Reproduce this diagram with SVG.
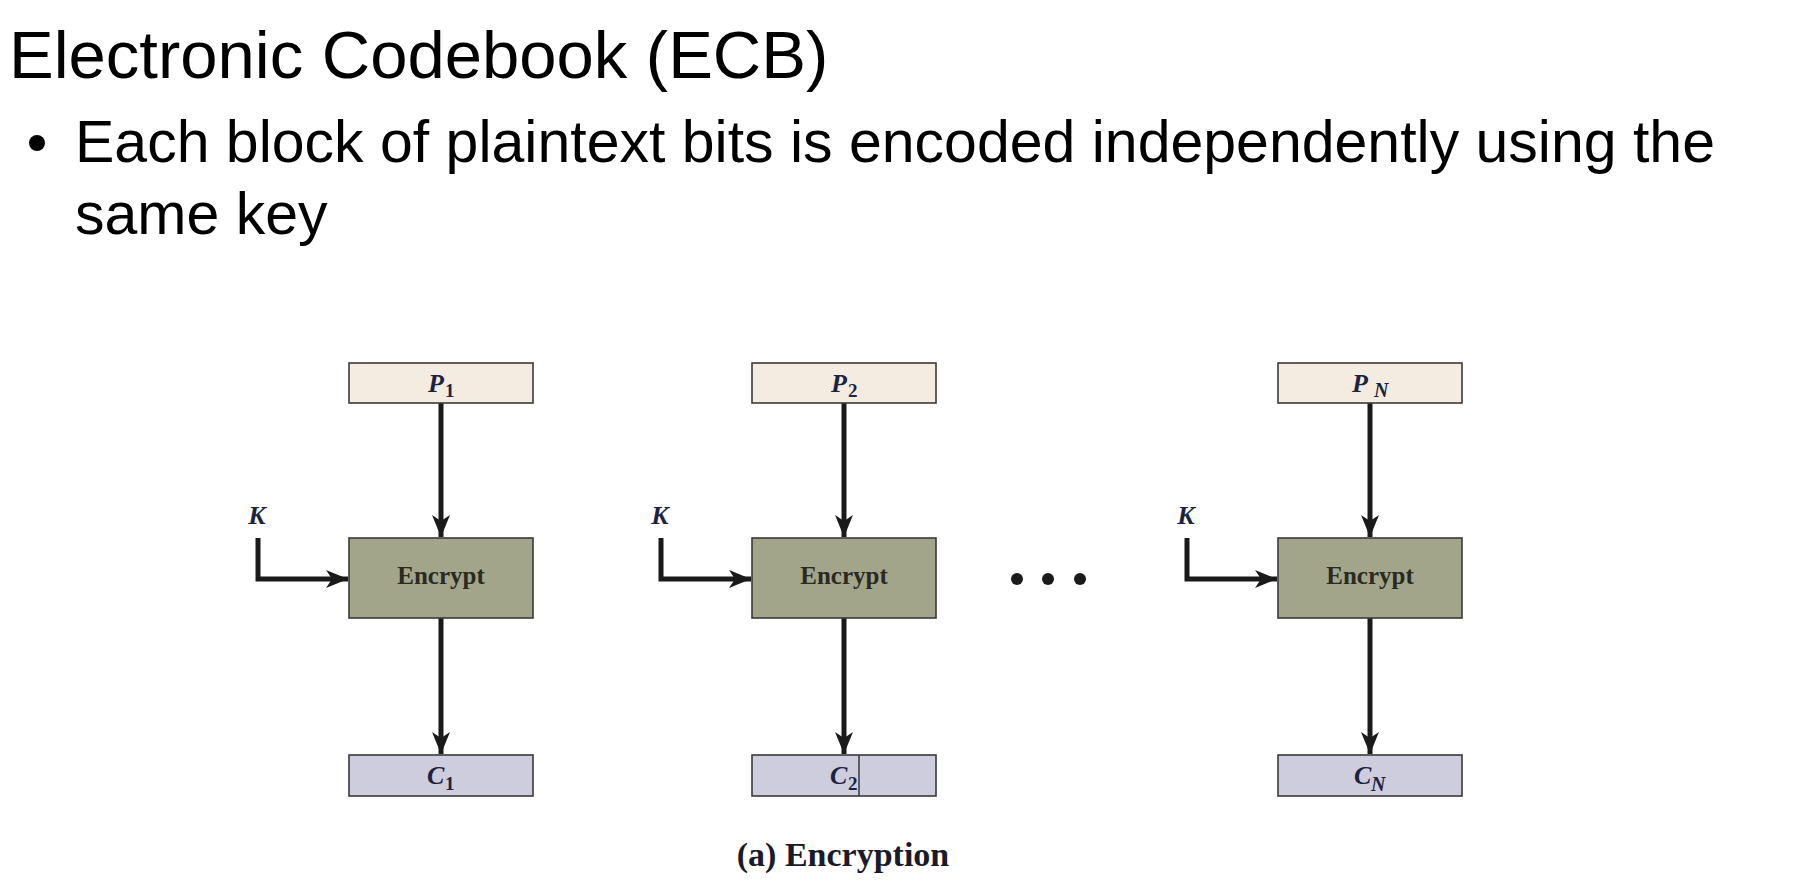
<svg xmlns="http://www.w3.org/2000/svg" width="1802" height="894" viewBox="0 0 1802 894">
<style>
.title{font-family:"Liberation Sans",Arial,sans-serif;font-size:67px;fill:#000}
.body{font-family:"Liberation Sans",Arial,sans-serif;font-size:59px;fill:#000}
.pbox{fill:#f4ebe1;stroke:#3a3a3a;stroke-width:1.6}
.ebox{fill:#a2a58a;stroke:#3a3a3a;stroke-width:1.6}
.cbox{fill:#cdcddd;stroke:#3a3a3a;stroke-width:1.6}
.lbl{font-family:"Liberation Serif","Times New Roman",serif;font-style:italic;font-weight:bold;font-size:26px;fill:#1c2340}
.sub{font-family:"Liberation Serif","Times New Roman",serif;font-weight:bold;font-size:19px;fill:#1c2340}
.subi{font-family:"Liberation Serif","Times New Roman",serif;font-style:italic;font-weight:bold;font-size:20px;fill:#1c2340}
.enc{font-family:"Liberation Serif","Times New Roman",serif;font-weight:bold;font-size:25px;fill:#2a2a22}
.cap{font-family:"Liberation Serif","Times New Roman",serif;font-weight:bold;font-size:34px;fill:#1a1a2a}
.ar{fill:none;stroke:#1a1a1a;stroke-width:5}
</style>
<defs>
<marker id="ah" markerUnits="userSpaceOnUse" markerWidth="26" markerHeight="22" refX="22" refY="11" orient="auto">
<path d="M0,2 L22,11 L0,20 L6,11 Z" fill="#1a1a1a"/>
</marker>
</defs>
<rect width="1802" height="894" fill="#fff"/>
<g id="heading">
<text class="title" x="9" y="78">Electronic Codebook (ECB)</text>
<circle cx="37" cy="143" r="8" fill="#000"/>
<text class="body" x="75" y="162">Each block of plaintext bits is encoded independently using the</text>
<text class="body" x="75" y="234">same key</text>
</g>
<g id="connectors">
<path class="ar" d="M441,403 V537" marker-end="url(#ah)"/>
<path class="ar" d="M441,618 V754" marker-end="url(#ah)"/>
<path class="ar" d="M258,538 V579 H348" marker-end="url(#ah)"/>
<path class="ar" d="M844,403 V537" marker-end="url(#ah)"/>
<path class="ar" d="M844,618 V754" marker-end="url(#ah)"/>
<path class="ar" d="M661,538 V579 H751" marker-end="url(#ah)"/>
<path class="ar" d="M1370,403 V537" marker-end="url(#ah)"/>
<path class="ar" d="M1370,618 V754" marker-end="url(#ah)"/>
<path class="ar" d="M1187,538 V579 H1277" marker-end="url(#ah)"/>
</g>
<g id="P1"><rect class="pbox" x="349" y="363" width="184" height="40"/><text class="lbl" x="428" y="392">P</text><text class="sub" x="445" y="397">1</text></g>
<g id="P2"><rect class="pbox" x="752" y="363" width="184" height="40"/><text class="lbl" x="831" y="392">P</text><text class="sub" x="848" y="397">2</text></g>
<g id="PN"><rect class="pbox" x="1278" y="363" width="184" height="40"/><text class="lbl" x="1352" y="392">P</text><text class="subi" x="1374" y="397">N</text></g>
<g id="K1"><text class="lbl" x="257" y="524" text-anchor="middle">K</text></g>
<g id="K2"><text class="lbl" x="660" y="524" text-anchor="middle">K</text></g>
<g id="K3"><text class="lbl" x="1186" y="524" text-anchor="middle">K</text></g>
<g id="E1"><rect class="ebox" x="349" y="538" width="184" height="80"/><text class="enc" x="441" y="584" text-anchor="middle">Encrypt</text></g>
<g id="E2"><rect class="ebox" x="752" y="538" width="184" height="80"/><text class="enc" x="844" y="584" text-anchor="middle">Encrypt</text></g>
<g id="EN"><rect class="ebox" x="1278" y="538" width="184" height="80"/><text class="enc" x="1370" y="584" text-anchor="middle">Encrypt</text></g>
<g id="C1"><rect class="cbox" x="349" y="755" width="184" height="41"/><text class="lbl" x="427" y="784">C</text><text class="sub" x="445" y="790">1</text></g>
<g id="C2"><rect class="cbox" x="752" y="755" width="184" height="41"/><text class="lbl" x="830" y="784">C</text><text class="sub" x="848" y="790">2</text><line x1="859" y1="755" x2="859" y2="796" stroke="#3a3a3a" stroke-width="1.5"/></g>
<g id="CN"><rect class="cbox" x="1278" y="755" width="184" height="41"/><text class="lbl" x="1354" y="784">C</text><text class="subi" x="1371" y="791">N</text></g>
<g id="dots"><circle cx="1017" cy="579" r="6" fill="#1a1a1a"/><circle cx="1048" cy="579" r="6" fill="#1a1a1a"/><circle cx="1080" cy="579" r="6" fill="#1a1a1a"/></g>
<g id="caption"><text class="cap" x="843" y="866" text-anchor="middle">(a) Encryption</text></g>
</svg>
